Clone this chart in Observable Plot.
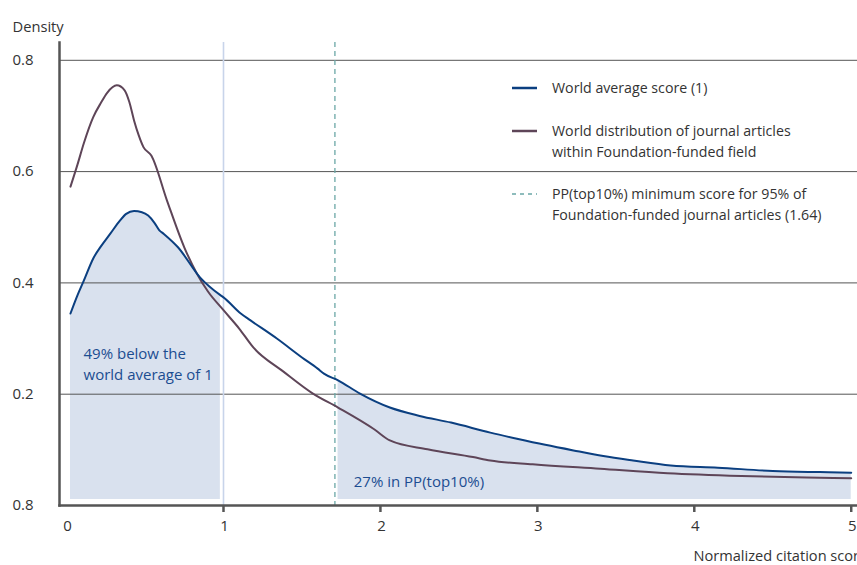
<!DOCTYPE html>
<html>
<head>
<meta charset="utf-8">
<script src="https://cdn.jsdelivr.net/npm/d3@7"></script>
<script src="https://cdn.jsdelivr.net/npm/@observablehq/plot@0.6"></script>
<style>
  html, body { margin: 0; padding: 0; background: #fff; overflow: hidden; }
  #wrap { position: relative; width: 857px; height: 565px; font-family: "Open Sans", sans-serif; overflow: hidden; }
  #wrap svg { overflow: hidden; }
  .leg { position: absolute; left: 512px; font-size: 14.2px; color: #333; line-height: 21px; }
  .leg svg { position: absolute; left: 0; }
  .leg span { position: absolute; left: 40px; white-space: nowrap; }
</style>
</head>
<body>
<div id="wrap"></div>
<script>
// Blue curve (World average score series)
const blueX = [0.025,0.07,0.11,0.17,0.22,0.28,0.34,0.38,0.43,0.48,0.52,0.56,0.59,0.62,0.71,0.85,0.98,1.0,1.11,1.17,1.34,1.50,1.60,1.64,1.73,1.87,2.06,2.25,2.45,2.70,2.87,3.05,3.23,3.42,3.61,3.85,4.15,4.50,4.80,5.0];
const blueY = [0.345,0.378,0.404,0.444,0.466,0.489,0.512,0.524,0.529,0.527,0.521,0.508,0.495,0.488,0.464,0.41,0.378,0.374,0.345,0.333,0.30,0.266,0.246,0.237,0.225,0.201,0.176,0.161,0.149,0.131,0.120,0.109,0.099,0.089,0.081,0.072,0.068,0.062,0.060,0.059];
// Purple curve (World distribution of journal articles)
const purpleX = [0.025,0.07,0.11,0.17,0.22,0.26,0.32,0.37,0.40,0.43,0.46,0.49,0.54,0.64,0.75,0.83,0.90,1.0,1.10,1.19,1.38,1.57,1.73,1.96,2.06,2.30,2.59,2.70,2.97,3.40,3.83,4.30,4.80,5.0];
const purpleY = [0.573,0.613,0.651,0.698,0.724,0.742,0.755,0.746,0.725,0.692,0.665,0.644,0.629,0.548,0.464,0.417,0.385,0.351,0.318,0.284,0.241,0.201,0.176,0.137,0.117,0.101,0.087,0.081,0.074,0.066,0.058,0.053,0.050,0.049];

const worldAverage = 1;
const ppThreshold = 1.71;
const leftShade = [0.02, 0.98];
const rightShade = [1.73, 5.0];
const shadeBase = 0.011;

const xTickVals = [0, 1, 2, 3, 4, 5];
const xTickMarks = [1, 2, 3, 4, 5];
const yTickVals = [0, 0.2, 0.4, 0.6, 0.8];
const yTickLabels = ["0.8", "0.2", "0.4", "0.6", "0.8"];

const blue = blueX.map((x, i) => ({x, y: blueY[i]}));
const purple = purpleX.map((x, i) => ({x, y: purpleY[i]}));
const leftArea = blue.filter(d => d.x >= leftShade[0] && d.x <= leftShade[1]);
const rightArea = blue.filter(d => d.x >= rightShade[0] && d.x <= rightShade[1]);

const BLUE = "#0b3f80", PURPLE = "#5e4558", TEAL = "#6aa7a6", SHADE = "#d9e1ee", GRID = "#555", TXT = "#333";

const chart = Plot.plot({
  width: 857, height: 565,
  marginLeft: 59, marginRight: 0, marginTop: 42, marginBottom: 60,
  x: {domain: [-0.045, 5.04], axis: null, label: null},
  y: {domain: [0, 0.832], axis: null, label: null},
  style: {fontFamily: "Open Sans, sans-serif", fontSize: "15px", color: TXT, background: "#fff"},
  marks: [
    Plot.areaY(leftArea, {x: "x", y1: shadeBase, y2: "y", fill: SHADE, curve: "monotone-x"}),
    Plot.areaY(rightArea, {x: "x", y1: shadeBase, y2: "y", fill: SHADE, curve: "monotone-x"}),
    Plot.ruleY(yTickVals.slice(1), {stroke: GRID, strokeWidth: 1}),
    Plot.ruleX([worldAverage], {stroke: "#c8d4ea", strokeWidth: 1.6}),
    Plot.ruleX([ppThreshold], {stroke: TEAL, strokeWidth: 1.3, strokeDasharray: "5,4"}),
    Plot.line(purple, {x: "x", y: "y", stroke: PURPLE, strokeWidth: 2, curve: "monotone-x"}),
    Plot.line(blue, {x: "x", y: "y", stroke: BLUE, strokeWidth: 2, curve: "monotone-x"}),
    Plot.frame({anchor: "left", stroke: GRID, strokeWidth: 2.5}),
    Plot.frame({anchor: "bottom", stroke: GRID, strokeWidth: 2.5}),
    Plot.axisX(xTickMarks, {tickSize: 7, tickFormat: () => "", label: null, stroke: GRID, strokeWidth: 2.5}),
    Plot.text(xTickVals, {x: d => d, frameAnchor: "bottom", text: d => String(d), dy: 25, fontSize: 15, fill: TXT, dx: 1}),
    Plot.text(yTickVals, {y: d => d, frameAnchor: "left", text: (d, i) => yTickLabels[i], dx: -47, textAnchor: "start", fontSize: 15, fill: TXT}),
    Plot.text(["Density"], {frameAnchor: "top-left", dx: -47, dy: -21, textAnchor: "start", fontSize: 14.7, fill: TXT}),
    Plot.text(["Normalized citation score"], {frameAnchor: "bottom-right", dx: -164, dy: 55, textAnchor: "start", fontSize: 14.6, fill: TXT}),
    Plot.text(["49% below the\nworld average of 1"], {x: 0.108, y: 0.256, textAnchor: "start", fontSize: 15, fill: "#1c4d91", lineHeight: 1.4}),
    Plot.text(["27% in PP(top10%)"], {x: 1.83, y: 0.042, textAnchor: "start", fontSize: 15, fill: "#1c4d91"})
  ]
});

document.getElementById("wrap").appendChild(chart);

const wrap = document.getElementById("wrap");
const legendItems = [
  {top: 77, color: BLUE, dash: null, lines: ["World average score (1)"]},
  {top: 120, color: PURPLE, dash: null, lines: ["World distribution of journal articles", "within Foundation-funded field"]},
  {top: 183, color: TEAL, dash: "4,4", lines: ["PP(top10%) minimum score for 95% of", "Foundation-funded journal articles (1.64)"]}
];
legendItems.forEach(it => {
  const d = document.createElement("div");
  d.className = "leg";
  d.style.top = it.top + "px";
  d.innerHTML = `<svg width="26" height="4" style="top:9px"><line x1="0" x2="25" y1="2" y2="2" stroke="${it.color}" stroke-width="${it.dash ? 1.3 : 2.5}" ${it.dash ? `stroke-dasharray="${it.dash}"` : ""}/></svg>` +
    it.lines.map((l, i) => `<span style="top:${i * 21}px">${l}</span>`).join("");
  wrap.appendChild(d);
});
</script>
</body>
</html>
